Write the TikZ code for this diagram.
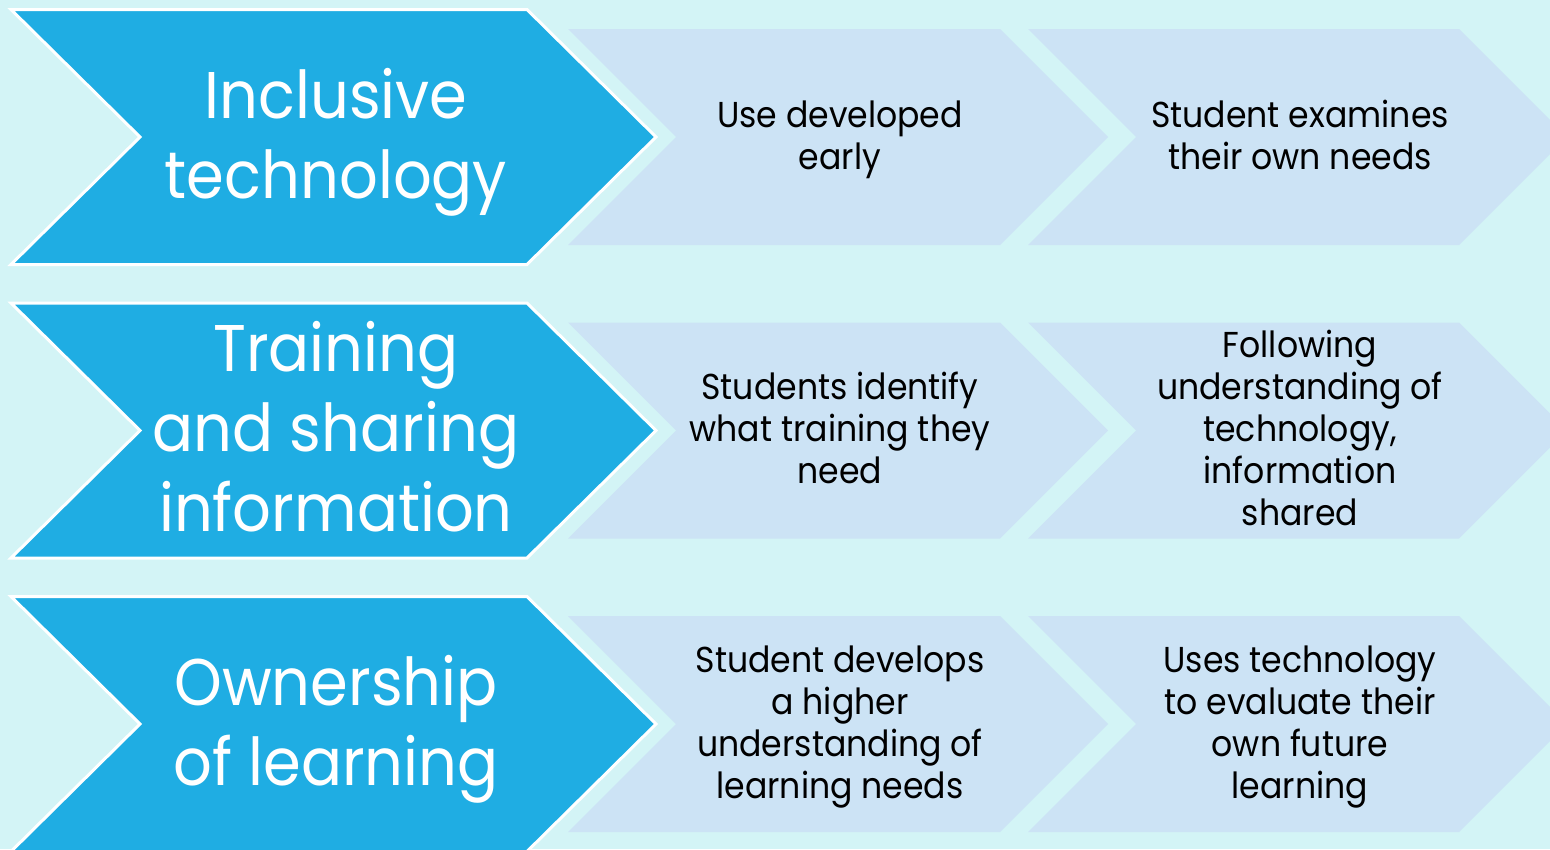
\documentclass[tikz,border=0pt]{standalone}
\usepackage{fontspec}
\setmainfont{Poppins}[FakeStretch=0.92]

\definecolor{pagebg}{HTML}{D3F4F6}
\definecolor{headblue}{HTML}{1FADE3}
\definecolor{steplight}{HTML}{CCE3F5}

% chevron band: #1 style, #2 left x, #3 top-right x, #4 point depth, #5 centre y, #6 half height
\newcommand{\chevronband}[6]{%
  \path[#1] (#2,#5-#6) -- (#3,#5-#6) -- (#3+#4,#5) -- (#3,#5+#6)
    -- (#2,#5+#6) -- (#2+#4,#5) -- cycle;}

\tikzset{
  headshape/.style={fill=headblue, draw=white, line width=3pt, line join=miter},
  stepshape/.style={fill=steplight},
  headtext/.style={text=white, align=center, inner sep=0pt,
    font=\fontsize{66}{80}\selectfont},
  steptext/.style={text=black, align=center, inner sep=0pt,
    font=\fontsize{36}{42}\selectfont},
}

\begin{document}
\begin{tikzpicture}[x=1pt,y=-1pt]
\useasboundingbox (0,0) rectangle (1550,849);
\clip (0,0) rectangle (1550,849);
\fill[pagebg] (0,0) rectangle (1550,849);

% three rows: centre lines
\foreach \cy in {137,430.5,724} {
  \chevronband{stepshape}{568}{1000}{108}{\cy}{108}
  \chevronband{stepshape}{1028}{1459}{108}{\cy}{108}
  \chevronband{headshape}{11}{527}{129}{\cy}{127.5}
}

% row 1
\node[headtext] (h1) at (336,142) {\strut Inclusive\\\strut technology};
\node[steptext] (s11) at (840,140) {\strut Use developed\\\strut early};
\node[steptext] (s12) at (1300,140) {\strut Student examines\\\strut their own needs};

% row 2
\node[headtext] (h2) at (336,435.5) {\strut Training\\\strut and sharing\\\strut information};
\node[steptext] (s21) at (840,433.5) {\strut Students identify\\\strut what training they\\\strut need};
\node[steptext] (s22) at (1300,433.5) {\strut Following\\\strut understanding of\\\strut technology,\\\strut information\\\strut shared};

% row 3
\node[headtext] (h3) at (336,729) {\strut Ownership\\\strut of learning};
\node[steptext] (s31) at (840,727) {\strut Student develops\\\strut a higher\\\strut understanding of\\\strut learning needs};
\node[steptext] (s32) at (1300,727) {\strut Uses technology\\\strut to evaluate their\\\strut own future\\\strut learning};
\end{tikzpicture}
\end{document}
